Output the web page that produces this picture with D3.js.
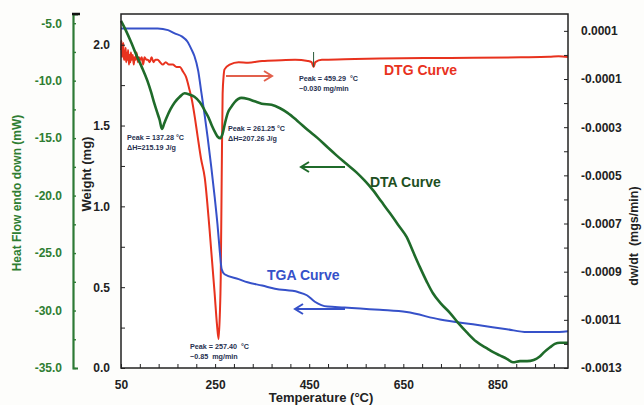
<!DOCTYPE html>
<html>
<head>
<meta charset="utf-8">
<script src="https://cdn.jsdelivr.net/npm/d3@7"></script>
<style>
  body { margin: 0; background: #fdfdfb; }
  svg text { font-family: "Liberation Sans", Arial, sans-serif; font-weight: bold; }
</style>
</head>
<body>
<div id="chart"></div>
<script>
// TGA (weight, mg)
var tgaTemp = [50, 128, 150, 164, 180, 191, 200, 206, 214, 221, 228, 234, 242, 249, 255, 260, 264, 270, 300, 319, 350, 377, 426, 445, 462, 489, 525, 600, 657, 728, 798, 870, 913, 968, 1000];
var tgaWeight = [2.10, 2.10, 2.09, 2.07, 2.05, 2.02, 1.97, 1.93, 1.84, 1.70, 1.56, 1.43, 1.24, 1.06, 0.89, 0.72, 0.61, 0.58, 0.55, 0.53, 0.51, 0.49, 0.47, 0.45, 0.41, 0.38, 0.375, 0.36, 0.346, 0.30, 0.27, 0.24, 0.222, 0.222, 0.228];

// DTA (heat flow, mW)
var dtaTemp = [50, 60, 72, 83, 94, 106, 114, 121, 128, 132, 137, 142, 147, 155, 164, 175, 185, 195, 206, 218, 228, 236, 243, 250, 256, 261, 266, 271, 277, 284, 291, 306, 320, 334, 349, 370, 388, 404, 425, 447, 468, 489, 508, 525, 551, 568, 585, 603, 621, 640, 657, 672, 685, 700, 713, 730, 749, 767, 785, 805, 828, 840, 855, 870, 883, 898, 913, 927, 940, 950, 962, 972, 983, 1000];
var dtaHeat = [-4.8, -5.6, -6.7, -7.8, -8.8, -10.0, -11.0, -12.0, -12.9, -13.4, -14.2, -13.7, -13.2, -12.5, -11.9, -11.4, -11.1, -11.2, -11.4, -11.9, -12.6, -13.2, -13.9, -14.5, -14.9, -15.0, -14.6, -13.7, -12.8, -12.3, -11.9, -11.5, -11.6, -11.8, -12.0, -12.1, -12.4, -12.8, -13.5, -14.3, -15.0, -15.8, -16.5, -17.1, -18.0, -18.7, -19.5, -20.5, -21.5, -22.6, -23.6, -25.0, -26.2, -27.5, -28.5, -29.4, -30.2, -31.1, -31.9, -32.7, -33.3, -33.6, -33.9, -34.2, -34.5, -34.4, -34.4, -34.3, -34.0, -33.6, -33.2, -32.9, -32.8, -32.8];

// DTG (dw/dt)
var dtgTemp = [50, 51, 52, 53, 54, 55, 56, 57, 58, 60, 61, 62, 64, 65, 67, 68, 70, 71, 73, 75, 77, 79, 81, 83, 86, 88, 91, 94, 97, 100, 104, 107, 111, 115, 119, 123, 128, 133, 139, 145, 152, 160, 168, 175, 182, 188, 195, 201, 207, 213, 220, 228, 238, 249, 254, 257.4, 260, 262, 264, 266, 268, 270, 281, 300, 320, 350, 391, 420, 447, 455, 459.3, 463, 477, 525, 600, 700, 800, 900, 960, 980, 1000];
var dtgRate = [0.00002, 0.00006, -0.00001, 0.00004, 0.00002, 0.00005, -0.00002, 0.00001, -0.00002, 0.00003, -0.00003, 0.00001, -0.00002, 0.00002, -0.00004, 0.0, -0.00003, 0.00001, -0.00002, 0.0, -0.00004, -0.00001, -0.00002, 0.00001, -0.00003, -0.00001, -0.00002, -0.00001, -0.00004, -0.00001, -0.00002, -0.00002, -0.00003, -0.00001, -0.00003, -0.00002, -0.00002, -0.00003, -0.00004, -0.00003, -0.00004, -0.00004, -0.00005, -0.00005, -0.00007, -0.00009, -0.00014, -0.00019, -0.00026, -0.00034, -0.00043, -0.00051, -0.00072, -0.00099, -0.00112, -0.00118, -0.00108, -0.00092, -0.00051, -0.00016, -0.00009, -0.00006, -0.00004, -0.00003, -0.000032, -0.000025, -0.000022, -0.00002, -0.000025, -0.00003, -0.00005, -0.00003, -0.00002, -0.000018, -0.000015, -0.000013, -0.000012, -0.00001, -0.000008, -0.000005, -0.000009];

// tick labels
var tempLabels = [50, 250, 450, 650, 850];
var weightLabels = [0.0, 0.5, 1.0, 1.5, 2.0];
var heatLabels = [-35, -30, -25, -20, -15, -10, -5];
var rateLabels = [-0.0013, -0.0011, -0.0009, -0.0007, -0.0005, -0.0003, -0.0001, 0.0001];

var chart = {};

chart.init = function() {
    var W = 644, H = 405;
    var pLeft = 121, pRight = 568, pTop = 14, pBottom = 368;
    var green = "#1f6b2a", blue = "#3651c9", red = "#e8321e", note = "#27304f";

    var svg = d3.select("#chart").append("svg")
        .attr("width", W)
        .attr("height", H);

    var x = d3.scaleLinear().domain([50, 1000]).range([pLeft, pRight]);
    var yW = d3.scaleLinear().domain([0, 2.19]).range([pBottom, pTop]);
    var yH = d3.scaleLinear().domain([-35, -4.2]).range([pBottom, pTop]);
    var yD = d3.scaleLinear().domain([-0.0013, 0.00017]).range([pBottom, pTop]);

    // plot panel
    svg.append("rect")
        .attr("x", pLeft).attr("y", pTop)
        .attr("width", pRight - pLeft).attr("height", pBottom - pTop)
        .attr("fill", "#fff");

    // curves
    var dtg = dtgTemp.map(function(t, i) { return [t, dtgRate[i]]; });
    var dta = dtaTemp.map(function(t, i) { return [t, dtaHeat[i]]; });
    var tga = tgaTemp.map(function(t, i) { return [t, tgaWeight[i]]; });

    svg.append("path")
        .datum(dtg)
        .attr("fill", "none")
        .attr("stroke", red)
        .attr("stroke-width", 2)
        .attr("stroke-linejoin", "round")
        .attr("d", d3.line().x(function(d) { return x(d[0]); }).y(function(d) { return yD(d[1]); }).curve(d3.curveMonotoneX));

    svg.append("path")
        .datum(tga)
        .attr("fill", "none")
        .attr("stroke", blue)
        .attr("stroke-width", 2)
        .attr("d", d3.line().x(function(d) { return x(d[0]); }).y(function(d) { return yW(d[1]); }).curve(d3.curveMonotoneX));

    svg.append("path")
        .datum(dta)
        .attr("fill", "none")
        .attr("stroke", green)
        .attr("stroke-width", 2.6)
        .attr("d", d3.line().x(function(d) { return x(d[0]); }).y(function(d) { return yH(d[1]); }).curve(d3.curveMonotoneX));

    // plot border
    svg.append("rect")
        .attr("x", pLeft).attr("y", pTop)
        .attr("width", pRight - pLeft).attr("height", pBottom - pTop)
        .attr("fill", "none")
        .attr("stroke", "#222")
        .attr("stroke-width", 1.5);

    // bottom axis
    var xAxis = svg.append("g")
        .attr("transform", "translate(0," + pBottom + ")")
        .call(d3.axisBottom(x)
            .tickValues(d3.range(50, 1001, 40))
            .tickSizeInner(-4).tickSizeOuter(0).tickPadding(12)
            .tickFormat(function(d) { return tempLabels.indexOf(d) >= 0 ? d : ""; }));
    xAxis.select(".domain").remove();
    xAxis.selectAll("text").attr("font-size", 12).attr("fill", "#222");
    xAxis.selectAll("line").attr("stroke", "#222");

    // weight axis (inner left)
    var wAxis = svg.append("g")
        .attr("transform", "translate(" + pLeft + ",0)")
        .call(d3.axisLeft(yW)
            .tickValues(d3.range(0, 9).map(function(i) { return i * 0.25; }))
            .tickSizeInner(-4).tickSizeOuter(0).tickPadding(11)
            .tickFormat(function(d) { return Math.round(d * 4) % 2 === 0 ? d.toFixed(1) : ""; }));
    wAxis.select(".domain").remove();
    wAxis.selectAll("text").attr("font-size", 12).attr("fill", "#222");
    wAxis.selectAll("line").attr("stroke", "#222");

    // heat flow axis (outer left)
    var hx = 73;
    var hAxis = svg.append("g")
        .attr("transform", "translate(" + hx + ",0)")
        .call(d3.axisLeft(yH)
            .tickValues(d3.range(0, 13).map(function(i) { return -35 + i * 2.5; }))
            .tickSizeInner(-3).tickSizeOuter(-5).tickPadding(11)
            .tickFormat(function(d) { return heatLabels.indexOf(d) >= 0 ? d.toFixed(1) : ""; }));
    hAxis.select(".domain").attr("stroke", "#2d7a35").attr("stroke-width", 2.2);
    hAxis.selectAll("line").attr("stroke", "#2d7a35").attr("stroke-width", 1.4);
    hAxis.selectAll("text").attr("font-size", 12).attr("fill", "#2f7d32");
    svg.append("line")
        .attr("x1", hx - 1).attr("x2", hx + 7)
        .attr("y1", pTop).attr("y2", pTop)
        .attr("stroke", "#111").attr("stroke-width", 2.5);

    // dw/dt axis (right)
    var rAxis = svg.append("g")
        .attr("transform", "translate(" + pRight + ",0)")
        .call(d3.axisRight(yD)
            .tickValues(d3.range(0, 15).map(function(i) { return -0.0013 + i * 0.0001; }))
            .tickSizeInner(-4).tickSizeOuter(0).tickPadding(13)
            .tickFormat(function(d, i) { return i % 2 === 0 ? d.toFixed(4) : ""; }));
    rAxis.select(".domain").remove();
    rAxis.selectAll("text").attr("font-size", 12).attr("fill", "#222");
    rAxis.selectAll("line").attr("stroke", "#222");

    // axis titles
    svg.append("text")
        .attr("x", 321).attr("y", 402)
        .attr("text-anchor", "middle")
        .attr("font-size", 13).attr("fill", "#222")
        .text("Temperature (°C)");

    svg.append("text")
        .attr("transform", "translate(21,193) rotate(-90)")
        .attr("text-anchor", "middle")
        .attr("font-size", 12).attr("fill", "#2f7d32")
        .text("Heat Flow endo down (mW)");

    svg.append("text")
        .attr("transform", "translate(91,174) rotate(-90)")
        .attr("text-anchor", "middle")
        .attr("font-size", 13).attr("fill", "#222")
        .text("Weight (mg)");

    svg.append("text")
        .attr("transform", "translate(638,236) rotate(-90)")
        .attr("text-anchor", "middle")
        .attr("font-size", 12.5).attr("fill", "#222")
        .attr("xml:space", "preserve")
        .text("dw/dt  (mgs/min)");

    // curve labels
    svg.append("text").attr("x", 384).attr("y", 75)
        .attr("font-size", 14).attr("fill", red).text("DTG Curve");
    svg.append("text").attr("x", 370).attr("y", 187)
        .attr("font-size", 14).attr("fill", "#1d4f22").text("DTA Curve");
    svg.append("text").attr("x", 267).attr("y", 280)
        .attr("font-size", 14).attr("fill", blue).text("TGA Curve");

    // arrows
    function arrow(x1, x2, y, color, dir) {
        var g = svg.append("g").attr("stroke", color).attr("stroke-width", 2).attr("fill", "none");
        g.append("line").attr("x1", x1).attr("x2", x2).attr("y1", y).attr("y2", y);
        var tip = dir > 0 ? x2 : x1;
        g.append("polyline")
            .attr("points", [[tip - dir * 8, y - 5], [tip, y], [tip - dir * 8, y + 5]].join(" "));
    }
    arrow(226, 272, 76, "#e2604c", 1);
    arrow(301, 345, 167, green, -1);
    arrow(295, 345, 309, blue, -1);

    // DTG small peak marker
    svg.append("line")
        .attr("x1", x(459.29)).attr("x2", x(459.29))
        .attr("y1", 52).attr("y2", 67)
        .attr("stroke", "#2a5a3a").attr("stroke-width", 1);

    // peak notes
    var notes = [
        [127, 140, "Peak = 137.28 °C"], [127, 150, "ΔH=215.19 J/g"],
        [228, 131, "Peak = 261.25 °C"], [228, 141, "ΔH=207.26 J/g"],
        [299, 81, "Peak = 459.29  °C"], [299, 91, "\u22120.030 mg/min"],
        [190, 349, "Peak = 257.40  °C"], [190, 359, "\u22120.85  mg/min"]
    ];
    svg.append("g").selectAll("text")
        .data(notes)
        .enter()
        .append("text")
        .attr("x", function(d) { return d[0]; })
        .attr("y", function(d) { return d[1]; })
        .attr("xml:space", "preserve")
        .attr("font-size", 7.2)
        .attr("fill", note)
        .text(function(d) { return d[2]; });
};

chart.init();
</script>
</body>
</html>
